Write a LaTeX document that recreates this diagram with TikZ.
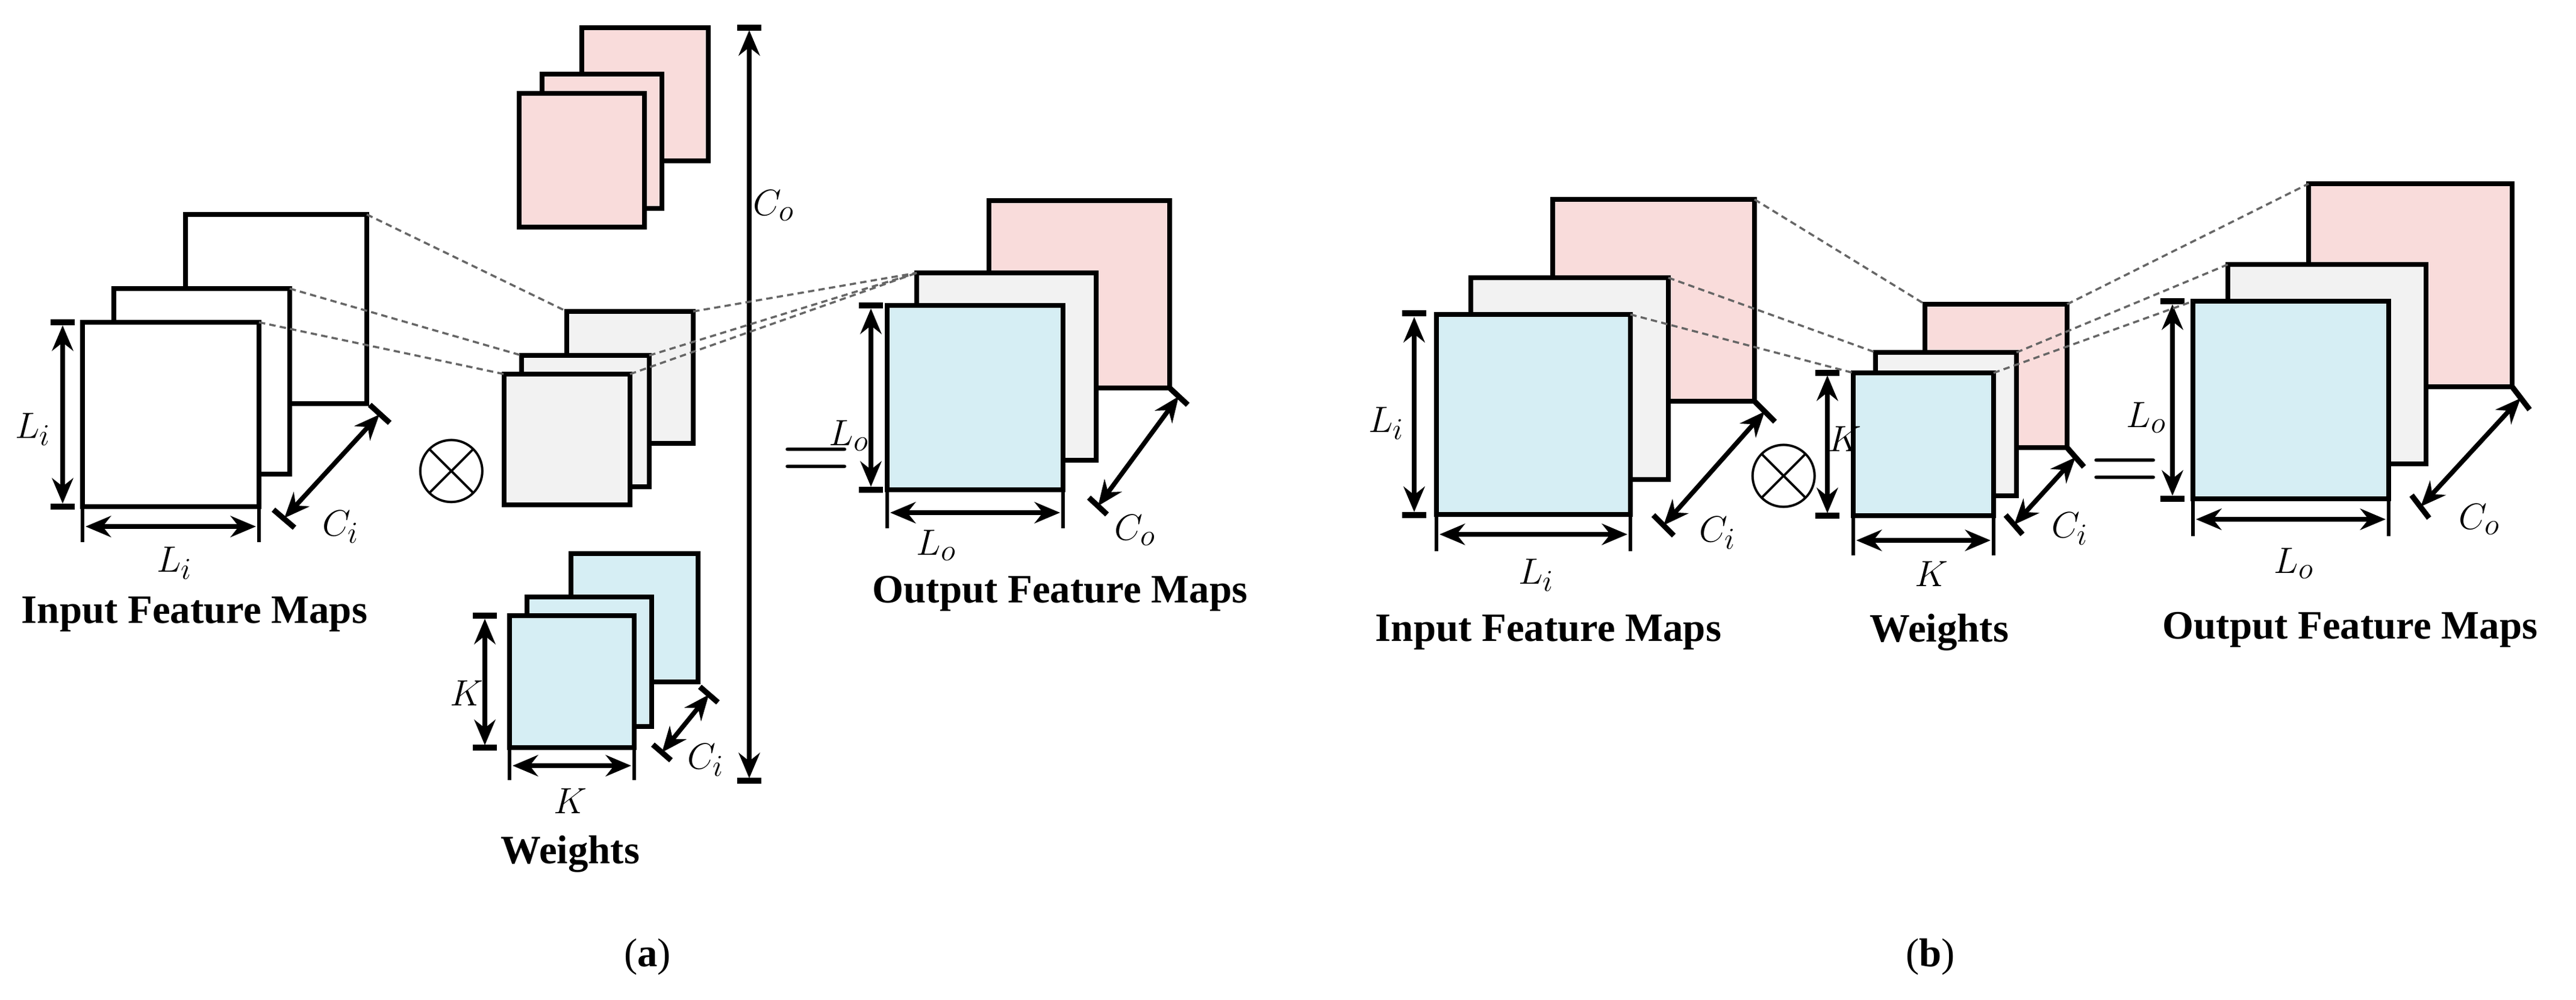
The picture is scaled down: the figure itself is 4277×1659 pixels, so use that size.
\documentclass[tikz,border=0pt]{standalone}
\usepackage{fontspec}
\setmainfont{Liberation Serif}
\usetikzlibrary{arrows.meta}
\definecolor{pk}{HTML}{F9DCDB}
\definecolor{gy}{HTML}{F2F2F2}
\definecolor{bl}{HTML}{D6EEF4}
\newcommand\rbox[6]{\node[fmap, fill=#6, minimum width={(#4-#2)*0.01cm}, minimum height={(#5-#3)*0.01cm}] (#1) at ({(#2+#4)/2},{(#3+#5)/2}) {};}
\newcommand\bigop[1]{\scalebox{2.2}{$#1$}}
\tikzset{
 fmap/.style={draw, line width=2.4pt, inner sep=0pt, outer sep=0pt},
 dim/.style={line width=2.2pt, {Stealth[length=12pt,width=10pt]}-{Stealth[length=12pt,width=10pt]}},
 tick/.style={line width=2.6pt},
 thin tick/.style={line width=1.6pt},
 dl/.style={densely dashed, line width=1pt, gray!80!black},
 lab/.style={font=\fontsize{19}{23}\selectfont, inner sep=1pt},
 ttl/.style={font=\fontsize{19}{23}\selectfont\bfseries},
 op/.style={font=\fontsize{20}{24}\selectfont, inner sep=0pt},
}
\begin{document}
\begin{tikzpicture}[x=0.01cm,y=-0.01cm]
\useasboundingbox (0,0) rectangle (4277,1659);
% ---------- (a) input
\rbox{ia3}{308}{356}{609}{670}{white}
\rbox{ia2}{189}{479}{481}{787}{white}
\rbox{ia1}{137}{535}{430}{841}{white}
\draw[dim] (104,540) -- (104,836);
\draw[tick] (84,535) -- (124,535) (84,841) -- (124,841);
\node[lab] (ali) at (55,713) {$L_i$};
\draw[dim] (142,874) -- (425,874);
\draw[thin tick] (137,845) -- (137,900) (430,845) -- (430,900);
\node[lab] (ali2) at (290,935) {$L_i$};
\draw[tick] (614,672) -- (647,702) (454,846) -- (489,876);
\coordinate (aci1) at (630,688); \coordinate (aci2) at (472,860);
\draw[dim] (aci1) -- (aci2);
\node[lab] (aci) at (566,875) {$C_i$};
\node[ttl] (ainp) at (323,1020) {Input Feature Maps};
\node[op] (aot) at (750,782) {\bigop{\otimes}};
% kernels gray
\rbox{ka3}{941}{517}{1151}{736}{gy}
\rbox{ka2}{866}{590}{1078}{808}{gy}
\rbox{ka1}{837}{621}{1046}{838}{gy}
% pink
\rbox{pa3}{966}{46}{1176}{267}{pk}
\rbox{pa2}{900}{123}{1099}{346}{pk}
\rbox{pa1}{862}{155}{1070}{377}{pk}
% blue
\rbox{ba3}{948}{919}{1159}{1132}{bl}
\rbox{ba2}{875}{991}{1082}{1206}{bl}
\rbox{ba1}{846}{1022}{1053}{1241}{bl}
\draw[dim] (805,1027) -- (805,1237);
\draw[tick] (785,1022) -- (825,1022) (785,1241) -- (825,1241);
\node[lab] (ak) at (775,1151) {$K$};
\draw[dim] (851,1271) -- (1048,1271);
\draw[thin tick] (846,1245) -- (846,1295) (1053,1245) -- (1053,1295);
\node[lab] (ak2) at (947,1330) {$K$};
\draw[tick] (1162,1140) -- (1192,1166) (1084,1236) -- (1114,1262);
\draw[dim] (1177,1153) -- (1099,1249);
\node[lab] (aci3) at (1172,1262) {$C_i$};
\node[ttl] (awt) at (947,1418) {Weights};
% Co arrow
\draw[dim] (1244,50) -- (1244,1292);
\draw[tick] (1224,46) -- (1264,46) (1224,1296) -- (1264,1296);
\node[lab] (aco) at (1285,341) {$C_o$};
% output
\rbox{oa3}{1642}{333}{1942}{644}{pk}
\rbox{oa2}{1522}{453}{1820}{764}{gy}
\rbox{oa1}{1473}{507}{1765}{813}{bl}
\node[op] (aeq) at (1355,772) {\bigop{=}};
\draw[dim] (1446,512) -- (1446,808);
\draw[tick] (1426,507) -- (1466,507) (1426,813) -- (1466,813);
\node[lab] (alo) at (1410,723) {$L_o$};
\draw[dim] (1478,851) -- (1760,851);
\draw[thin tick] (1473,817) -- (1473,877) (1765,817) -- (1765,877);
\node[lab] (alo2) at (1555,905) {$L_o$};
\draw[tick] (1942,644) -- (1972,672) (1808,826) -- (1838,854);
\draw[dim] (1957,658) -- (1823,840);
\node[lab] (aco2) at (1885,880) {$C_o$};
\node[ttl] (aout) at (1760,985) {Output Feature Maps};
% dashed (a)
\draw[dl] (ia3.north east) -- (ka3.north west);
\draw[dl] (ia2.north east) -- (ka2.north west);
\draw[dl] (ia1.north east) -- (ka1.north west);
\draw[dl] (ka3.north east) -- (oa2.north west);
\draw[dl] (ka2.north east) -- (oa2.north west);
\draw[dl] (ka1.north east) -- (oa2.north west);
\node[font=\fontsize{19}{23}\selectfont] (capa) at (1075,1588) {(\textbf{a})};
% ---------- (b) input
\rbox{ib3}{2578}{331}{2913}{666}{pk}
\rbox{ib2}{2442}{461}{2770}{796}{gy}
\rbox{ib1}{2385}{522}{2707}{854}{bl}
\draw[dim] (2348,526) -- (2348,850);
\draw[tick] (2328,520) -- (2368,520) (2328,855) -- (2368,855);
\node[lab] (bli) at (2302,703) {$L_i$};
\draw[dim] (2390,887) -- (2702,887);
\draw[thin tick] (2385,858) -- (2385,915) (2707,858) -- (2707,915);
\node[lab] (bli2) at (2551,955) {$L_i$};
\draw[tick] (2913,666) -- (2947,700) (2745,855) -- (2779,889);
\draw[dim] (2930,683) -- (2762,872);
\node[lab] (bci) at (2852,885) {$C_i$};
\node[ttl] (binp) at (2571,1050) {Input Feature Maps};
\node[op] (bot) at (2962,790) {\bigop{\otimes}};
% weights
\rbox{kb3}{3196}{505}{3432}{743}{pk}
\rbox{kb2}{3114}{585}{3348}{823}{gy}
\rbox{kb1}{3077}{619}{3310}{856}{bl}
\draw[dim] (3034,623) -- (3034,852);
\draw[tick] (3014,619) -- (3054,619) (3014,856) -- (3054,856);
\node[lab] (bk) at (3063,729) {$K$};
\draw[dim] (3082,897) -- (3305,897);
\draw[thin tick] (3077,860) -- (3077,922) (3310,860) -- (3310,922);
\node[lab] (bk2) at (3207,953) {$K$};
\draw[tick] (3432,743) -- (3460,775) (3330,855) -- (3358,887);
\draw[dim] (3446,759) -- (3344,871);
\node[lab] (bci2) at (3437,878) {$C_i$};
\node[ttl] (bwt) at (3220,1050) {Weights};
% output
\rbox{ob3}{3833}{305}{4171}{642}{pk}
\rbox{ob2}{3699}{439}{4028}{770}{gy}
\rbox{ob1}{3641}{500}{3966}{828}{bl}
\node[op] (beq) at (3528,790) {\bigop{=}};
\draw[dim] (3607,505) -- (3607,823);
\draw[tick] (3587,500) -- (3627,500) (3587,828) -- (3627,828);
\node[lab] (blo) at (3564,693) {$L_o$};
\draw[dim] (3646,862) -- (3961,862);
\draw[thin tick] (3641,832) -- (3641,890) (3966,832) -- (3966,890);
\node[lab] (blo2) at (3809,935) {$L_o$};
\draw[tick] (4171,642) -- (4200,680) (4004,822) -- (4033,860);
\draw[dim] (4185,661) -- (4019,841);
\node[lab] (bco) at (4117,862) {$C_o$};
\node[ttl] (bout) at (3902,1045) {Output Feature Maps};
% dashed (b)
\draw[dl] (ib3.north east) -- (kb3.north west);
\draw[dl] (ib2.north east) -- (kb2.north west);
\draw[dl] (ib1.north east) -- (kb1.north west);
\draw[dl] (kb3.north east) -- (ob3.north west);
\draw[dl] (kb2.north east) -- (ob2.north west);
\draw[dl] (kb1.north east) -- (ob1.north west);
\node[font=\fontsize{19}{23}\selectfont] (capb) at (3205,1588) {(\textbf{b})};
\end{tikzpicture}
\end{document}
